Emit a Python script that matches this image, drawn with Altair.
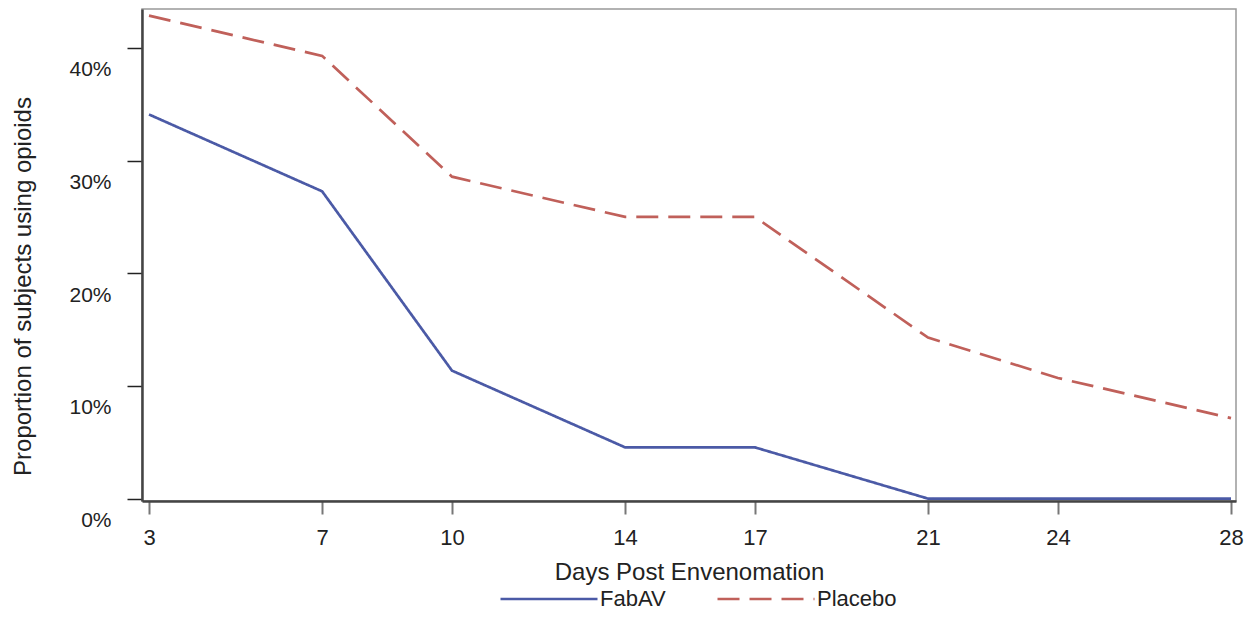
import altair as alt
import pandas as pd

days = [3, 7, 10, 14, 17, 21, 24, 28]
fabav = [34.09, 27.27, 11.36, 4.55, 4.55, 0.0, 0.0, 0.0]
placebo = [42.86, 39.29, 28.57, 25.00, 25.00, 14.29, 10.71, 7.14]
groups = ["FabAV", "Placebo"]
colors = ["#4b5aa6", "#c0605a"]
y_ticks = [0, 10, 20, 30, 40]

df = pd.DataFrame({
    "day": days + days,
    "pct": fabav + placebo,
    "group": [groups[0]] * len(days) + [groups[1]] * len(days),
})

font = "Liberation Sans"
txt = "#222222"

legend = alt.Legend(
    title=None, orient="none", legendX=357, legendY=540, direction="horizontal",
    symbolType="stroke", symbolSize=9409, symbolStrokeWidth=2.5,
    labelFontSize=22, labelFont=font, labelColor=txt, labelOffset=1,
    columnPadding=46, padding=0,
)

chart = alt.Chart(df).mark_line(strokeWidth=2.7).encode(
    x=alt.X("day:Q",
            scale=alt.Scale(domain=[2.838, 28.1155], nice=False, zero=False),
            axis=alt.Axis(values=days, title="Days Post Envenomation", grid=False,
                          tickSize=13, tickColor="#777777", tickWidth=2,
                          domainColor="#444444", domainWidth=2.5,
                          labelFontSize=22, labelFont=font, labelColor=txt, labelPadding=13,
                          titleFontSize=24, titleFont=font, titleColor=txt,
                          titleFontWeight="normal", titlePadding=12)),
    y=alt.Y("pct:Q",
            scale=alt.Scale(domain=[-0.21, 43.45], nice=False, zero=False),
            axis=alt.Axis(values=y_ticks, labelExpr="datum.value + '%'",
                          title="Proportion of subjects using opioids", grid=False,
                          tickSize=15, tickColor="#222222", tickWidth=1.5,
                          domainColor="#444444", domainWidth=2.5,
                          labelFontSize=21, labelFont=font, labelColor=txt,
                          labelPadding=16, labelOffset=22,
                          titleFontSize=24, titleFont=font, titleColor=txt,
                          titleFontWeight="normal", titleX=-107, titleY=277)),
    color=alt.Color("group:N", scale=alt.Scale(domain=groups, range=colors), legend=legend),
    strokeDash=alt.StrokeDash("group:N", scale=alt.Scale(domain=groups, range=[[1, 0], [22, 10]]),
                              legend=legend),
).properties(
    width=1094, height=492,
    padding={"left": 134, "top": 1, "right": 8, "bottom": 110},
    autosize="none",
).configure_view(stroke="#999999", strokeWidth=1.5)

chart.save("out.html", embed_options={"renderer": "svg", "actions": False})
